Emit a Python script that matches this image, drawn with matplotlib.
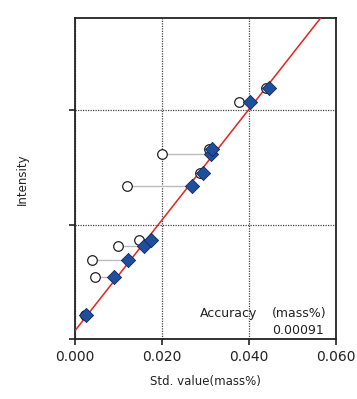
import numpy as np
import matplotlib.pyplot as plt

# std. value (mass%) of each standard and its measured intensity
std_value = [0.00259, 0.00894, 0.01229, 0.01585, 0.01750, 0.02683,
             0.02943, 0.03126, 0.03142, 0.04020, 0.04463]
intensity = [0.213, 0.546, 0.691, 0.818, 0.864, 1.340,
             1.452, 1.614, 1.659, 2.072, 2.193]
# value before correction (open circles)
uncorrected = [0.00220, 0.00466, 0.00390, 0.01000, 0.01468, 0.01195,
               0.02874, 0.01995, 0.03087, 0.03768, 0.04381]

calib_slope = 48.3
calib_intercept = 0.075
accuracy = "0.00091"

xticks = [0.0, 0.02, 0.04, 0.06]
xtick_labels = ["0.000", "0.020", "0.040", "0.060"]
yticks = [0, 1, 2]

fig = plt.figure(figsize=(3.57, 3.99), dpi=100)
ax = fig.add_axes([0.210, 0.1496, 0.731, 0.8044])

# correction lines
for xu, xc, yi in zip(uncorrected, std_value, intensity):
    ax.plot([xu, xc], [yi, yi], color="#bbbbbb", lw=1.0, zorder=2)

xs = np.array([0.0, 0.06])
ax.plot(xs, calib_intercept + calib_slope * xs, color="#e8231e", lw=1.1, zorder=3)

ax.scatter(uncorrected, intensity, s=48, marker="o", facecolor="white",
           edgecolor="#222222", linewidth=0.9, zorder=4)
ax.scatter(std_value, intensity, s=52, marker="D", facecolor="#1f4e9c",
           edgecolor="#0d2a5c", linewidth=0.6, zorder=5)

ax.set_xlim(0, 0.06)
ax.set_ylim(0.01, 2.80)
ax.set_xticks(xticks)
ax.set_xticklabels(xtick_labels, fontsize=10, color="#222222")
ax.set_yticks(yticks)
ax.set_yticklabels([])
ax.tick_params(direction="out", length=4, width=1.2, color="#222222")
ax.grid(True, linestyle=(0, (1, 1)), color="#444444", lw=0.9)
for sp in ax.spines.values():
    sp.set_linewidth(1.3)
    sp.set_color("#222222")

ax.set_xlabel("Std. value(mass%)", fontsize=8.5, color="#222222", labelpad=8)
ax.set_ylabel("Intensity", fontsize=8.5, color="#222222", labelpad=26)

ax.text(0.479, 0.079, "Accuracy", transform=ax.transAxes, ha="left", va="center", fontsize=9, color="#222222")
ax.text(0.962, 0.079, "(mass%)", transform=ax.transAxes, ha="right", va="center", fontsize=9, color="#222222")
ax.text(0.954, 0.029, accuracy, transform=ax.transAxes, ha="right", va="center", fontsize=9, color="#222222")

fig.savefig("out.png", dpi=100)
